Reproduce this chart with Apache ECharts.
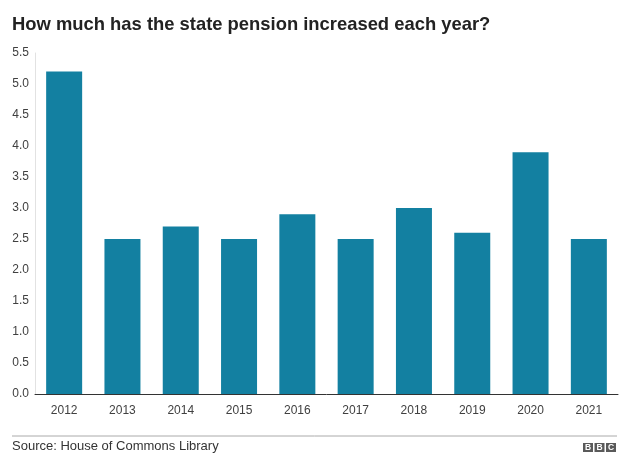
<!DOCTYPE html>
<html>
<head>
<meta charset="utf-8">
<script src="https://cdn.jsdelivr.net/npm/echarts@6/dist/echarts.min.js"></script>
<style>
  html, body { margin: 0; padding: 0; background: #fff; }
  #chart { width: 630px; height: 469px; }
</style>
</head>
<body>
<div id="chart"></div>
<script>
// data
var years = ["2012", "2013", "2014", "2015", "2016", "2017", "2018", "2019", "2020", "2021"];
var increase = [5.2, 2.5, 2.7, 2.5, 2.9, 2.5, 3.0, 2.6, 3.9, 2.5];
var yTicks = { min: 0, max: 5.5, interval: 0.5 };

var myChart = echarts.init(document.getElementById("chart"));

var option = {
  animation: false,
  textStyle: { fontFamily: "Liberation Sans, Arial, sans-serif" },
  title: {
    text: "How much has the state pension increased each year?",
    left: 12,
    top: 16,
    padding: 0,
    textStyle: { fontSize: 18.4, fontWeight: "bold", color: "#222" }
  },
  grid: { left: 35, right: 12, top: 53, bottom: 75 },
  xAxis: {
    type: "category",
    data: years,
    axisTick: { show: false },
    axisLine: { lineStyle: { color: "#333", width: 1 } },
    axisLabel: { color: "#404040", fontSize: 12, margin: 11 }
  },
  yAxis: {
    type: "value",
    min: yTicks.min,
    max: yTicks.max,
    interval: yTicks.interval,
    axisLine: { show: true, lineStyle: { color: "#e2e2e2" } },
    axisTick: { show: false },
    splitLine: { show: false },
    axisLabel: {
      color: "#404040",
      fontSize: 12,
      margin: 6,
      formatter: function (v) { return v.toFixed(1); }
    }
  },
  series: [
    {
      type: "bar",
      data: increase,
      barWidth: 36,
      itemStyle: { color: "#1380a1" }
    }
  ],
  graphic: [
    // footer rule
    { type: "line", shape: { x1: 12, y1: 436, x2: 617, y2: 436 }, style: { stroke: "#aaa", lineWidth: 1 } },
    {
      type: "text", left: 12, top: 440,
      style: { text: "Source: House of Commons Library", fontSize: 13, fill: "#333", fontFamily: "Liberation Sans, Arial, sans-serif" }
    },
    // BBC blocks
    {
      type: "group", left: 583, top: 443,
      children: ["B", "B", "C"].map(function (ch, i) {
        return {
          type: "group", x: i * 11.5,
          children: [
            { type: "rect", shape: { x: 0, y: 0, width: 10, height: 9 }, style: { fill: "#5a5a5a" } },
            { type: "text", x: 5, y: 4.8, style: { text: ch, fontSize: 8.5, fontWeight: "bold", fill: "#fff", align: "center", verticalAlign: "middle", fontFamily: "Liberation Sans, Arial, sans-serif" } }
          ]
        };
      })
    }
  ]
};

option && myChart.setOption(option);
</script>
</body>
</html>
